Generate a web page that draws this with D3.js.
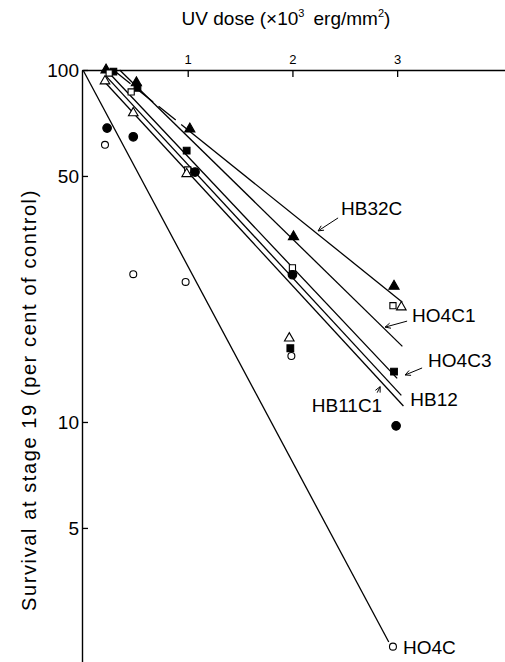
<!DOCTYPE html>
<html>
<head>
<meta charset="utf-8">
<script src="https://cdn.jsdelivr.net/npm/d3@7"></script>
<style>
  body { margin: 0; background: #fff; }
  svg { display: block; font-family: "Liberation Sans", Arial, sans-serif; }
</style>
</head>
<body>
<svg width="505" height="662"></svg>
<script>
// survival at stage 19 after UV

var xTicks = [1, 2, 3];
var yTicks = [100, 50, 10, 5];

// points, one pair of arrays per symbol
var triFillDose  = [0.22, 0.51, 1.02, 2.01, 2.97];
var triFillSurv  = [100, 92, 68, 33.6, 24.3];
var sqFillDose   = [0.29, 0.52, 0.99, 1.98, 2.97];
var sqFillSurv   = [99, 89, 59, 16.2, 13.9];
var sqOpenDose   = [0.25, 0.46, 1.0, 2.0, 2.96];
var sqOpenSurv   = [98, 86.6, 52, 27.4, 21.4];
var triOpenDose  = [0.21, 0.48, 0.99, 1.97, 3.04];
var triOpenSurv  = [93, 75.5, 50.7, 17.3, 21.2];
var circFillDose = [0.23, 0.48, 1.07, 2.0, 2.99];
var circFillSurv = [68.4, 64.6, 51.3, 26.2, 9.75];
var circOpenDose = [0.21, 0.48, 0.98, 1.99, 2.96];
var circOpenSurv = [61.3, 26.3, 25.0, 15.4, 2.3];

// fitted lines (start / end)
var lineNames    = ["HB32C", "HO4C1", "HO4C3", "HB12", "HB11C1", "HO4C"];
var lineDoseFrom = [0.29, 0.35, 0.24, 0.22, 0.19, 0];
var lineSurvFrom = [100, 100, 98.7, 96.1, 93.7, 100];
var lineDoseTo   = [3.05, 3.05, 3.0, 3.04, 3.06, 2.92];
var lineSurvTo   = [21.9, 16.4, 13.3, 11.9, 11.1, 2.37];
var lineDashTo   = [1.0, 0, 0, 0, 0, 0]; // dashed part up to this dose

// labels: where the arrow points (or the label hangs from)
var labelDose = [2.245, 2.885, 3.076, 3.04, 2.838, 2.96];
var labelSurv = [34.9, 18.6, 13.6, 11.9, 12.6, 2.3];

var svg = d3.select("svg");

var x = d3.scaleLinear().domain([0, 4.03]).range([83, 505]);
var y = d3.scaleLog().domain([100, 2.08]).range([70, 662]);

// axes
var gx = svg.append("g")
  .attr("transform", "translate(0," + y(100) + ")")
  .call(d3.axisTop(x).tickValues(xTicks).tickFormat(d3.format("d"))
    .tickSizeInner(-7).tickSizeOuter(0).tickPadding(6));
gx.selectAll("text").attr("font-size", 13).attr("font-family", null);

var gy = svg.append("g")
  .attr("transform", "translate(" + (x(0) - 1) + ",0)")
  .call(d3.axisLeft(y).tickValues(yTicks).tickFormat(d3.format("d"))
    .tickSizeInner(-6).tickSizeOuter(0).tickPadding(3));
gy.selectAll("text").attr("font-size", 19).attr("font-family", null);

svg.selectAll(".domain").attr("stroke-width", 1.4);
svg.selectAll(".tick line").attr("stroke-width", 1.3);

// titles
var tt = svg.append("text")
  .attr("x", 286).attr("y", 25)
  .attr("text-anchor", "middle")
  .attr("font-size", 19);
tt.append("tspan").text("UV dose (\u00d710");
tt.append("tspan").attr("font-size", 11).attr("dy", -8).text("3");
tt.append("tspan").attr("dy", 8).text("\u2009 erg/mm");
tt.append("tspan").attr("font-size", 11).attr("dy", -8).text("2");
tt.append("tspan").attr("dy", 8).text(")");

svg.append("text")
  .attr("transform", "translate(36,400) rotate(-90)")
  .attr("text-anchor", "middle")
  .attr("font-size", 20)
  .attr("letter-spacing", 1.6)
  .text("Survival at stage 19 (per cent of control)");

// lines
var lines = lineNames.map(function(n, i) {
  return { name: n, d0: lineDoseFrom[i], s0: lineSurvFrom[i],
           d1: lineDoseTo[i], s1: lineSurvTo[i], dash: lineDashTo[i] };
});

function survAt(l, d) {
  var t = (d - l.d0) / (l.d1 - l.d0);
  return Math.exp(Math.log(l.s0) + t * (Math.log(l.s1) - Math.log(l.s0)));
}

var line = d3.line().x(function(p) { return x(p[0]); }).y(function(p) { return y(p[1]); });

lines.forEach(function(l) {
  if (l.dash > 0) {
    svg.append("path")
      .attr("d", line([[l.d0, l.s0], [l.dash, survAt(l, l.dash)]]))
      .attr("fill", "none").attr("stroke", "#000").attr("stroke-width", 1.3)
      .attr("stroke-dasharray", "22,7");
    svg.append("path")
      .attr("d", line([[l.dash, survAt(l, l.dash)], [l.d1, l.s1]]))
      .attr("fill", "none").attr("stroke", "#000").attr("stroke-width", 1.3);
  } else {
    svg.append("path")
      .attr("d", line([[l.d0, l.s0], [l.d1, l.s1]]))
      .attr("fill", "none").attr("stroke", "#000").attr("stroke-width", 1.3);
  }
});

// points
var groups = [
  { dose: triFillDose,  surv: triFillSurv,  type: d3.symbolTriangle, size: 45, fill: "#000" },
  { dose: sqFillDose,   surv: sqFillSurv,   type: d3.symbolSquare,   size: 45, fill: "#000" },
  { dose: sqOpenDose,   surv: sqOpenSurv,   type: d3.symbolSquare,   size: 38, fill: "#fff" },
  { dose: triOpenDose,  surv: triOpenSurv,  type: d3.symbolTriangle, size: 40, fill: "#fff" },
  { dose: circFillDose, surv: circFillSurv, type: d3.symbolCircle,   size: 58, fill: "#000" },
  { dose: circOpenDose, surv: circOpenSurv, type: d3.symbolCircle,   size: 38, fill: "#fff" }
];

groups.forEach(function(g) {
  svg.append("g").selectAll("path")
    .data(g.dose.map(function(d, i) { return [d, g.surv[i]]; }))
    .join("path")
      .attr("transform", function(p) { return "translate(" + x(p[0]) + "," + y(p[1]) + ")"; })
      .attr("d", d3.symbol().type(g.type).size(g.size))
      .attr("fill", g.fill)
      .attr("stroke", "#000")
      .attr("stroke-width", 1.1);
});

// labels with little arrows
var labelLayout = {
  HB32C:  { tail: [20, -13], text: [23, -16], anchor: "start" },
  HO4C1:  { tail: [22, -6],  text: [27, -5],  anchor: "start" },
  HO4C3:  { tail: [17, -7],  text: [23, -8],  anchor: "start" },
  HB12:   { tail: null,      text: [9, 11],   anchor: "start" },
  HB11C1: { tail: [-3, 6],   text: [2, 25],   anchor: "end" },
  HO4C:   { tail: null,      text: [10, 7],   anchor: "start" }
};

lineNames.forEach(function(n, i) {
  var tx = x(labelDose[i]), ty = y(labelSurv[i]), lay = labelLayout[n];
  if (lay.tail) {
    var ax = tx + lay.tail[0], ay = ty + lay.tail[1];
    svg.append("line")
      .attr("x1", ax).attr("y1", ay).attr("x2", tx).attr("y2", ty)
      .attr("stroke", "#000").attr("stroke-width", 1);
    var ang = Math.atan2(ty - ay, tx - ax);
    [0.45, -0.45].forEach(function(da) {
      svg.append("line")
        .attr("x1", tx).attr("y1", ty)
        .attr("x2", tx - 6 * Math.cos(ang + da)).attr("y2", ty - 6 * Math.sin(ang + da))
        .attr("stroke", "#000").attr("stroke-width", 1);
    });
  }
  svg.append("text")
    .attr("x", tx + lay.text[0]).attr("y", ty + lay.text[1])
    .attr("text-anchor", lay.anchor)
    .attr("font-size", 19)
    .text(n);
});
</script>
</body>
</html>
